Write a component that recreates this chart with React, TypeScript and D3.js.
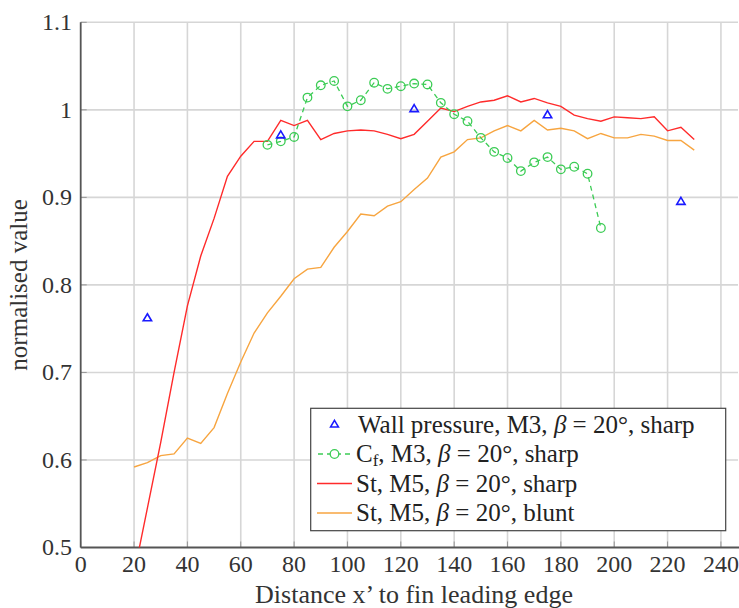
import React from 'react';
import * as d3 from 'd3';

// distance x' (5-unit stations)
const stations = [20, 25, 30, 35, 40, 45, 50, 55, 60, 65, 70, 75, 80, 85, 90, 95, 100, 105, 110, 115, 120, 125, 130,
  135, 140, 145, 150, 155, 160, 165, 170, 175, 180, 185, 190, 195, 200, 205, 210, 215, 220, 225, 230];

// St, M5, sharp
const stSharp = [0.47, 0.545, 0.62, 0.70, 0.776, 0.833, 0.876, 0.924, 0.947, 0.964, 0.964, 0.988, 0.982, 0.988, 0.966,
  0.973, 0.976, 0.977, 0.976, 0.972, 0.967, 0.972, 0.987, 1.002, 0.998, 1.004, 1.009, 1.011, 1.016, 1.009, 1.013,
  1.008, 1.004, 0.994, 0.990, 0.987, 0.992, 0.991, 0.990, 0.992, 0.976, 0.980, 0.966];

// St, M5, blunt
const stBlunt = [0.592, 0.597, 0.605, 0.607, 0.625, 0.619, 0.637, 0.676, 0.712, 0.745, 0.768, 0.787, 0.807, 0.818,
  0.820, 0.843, 0.861, 0.881, 0.879, 0.890, 0.895, 0.909, 0.922, 0.946, 0.952, 0.966, 0.968, 0.976, 0.982, 0.976,
  0.988, 0.977, 0.979, 0.976, 0.967, 0.973, 0.968, 0.968, 0.972, 0.970, 0.965, 0.965, 0.954];

// Cf, M3, sharp
const cfX = [70, 75, 80, 85, 90, 95, 100, 105, 110, 115, 120, 125, 130, 135, 140, 145, 150, 155, 160, 165, 170, 175,
  180, 185, 190, 195];
const cfY = [0.960, 0.964, 0.969, 1.014, 1.028, 1.033, 1.004, 1.011, 1.031, 1.024, 1.027, 1.030, 1.029, 1.008, 0.995,
  0.987, 0.968, 0.952, 0.945, 0.930, 0.940, 0.946, 0.932, 0.935, 0.927, 0.865];

// wall pressure, M3, sharp
const wpX = [25, 75, 125, 175, 225];
const wpY = [0.762, 0.971, 1.001, 0.994, 0.895];

const xTicks = [0, 20, 40, 60, 80, 100, 120, 140, 160, 180, 200, 220, 240];
const yTicks = [0.5, 0.6, 0.7, 0.8, 0.9, 1, 1.1];

const W = 739;
const H = 608;
const left = 80.7;
const right = 738;
const top = 22.3;
const bottom = 547.5;

const FONT = "'Liberation Serif', 'DejaVu Serif', serif";
const RED = '#ff2b2b';
const ORANGE = '#f7a540';
const GREEN = '#3ccc55';
const BLUE = '#1a1aff';
const GRID = '#d6d6d6';
const AXIS = '#555';

const App = () => {
  const x = d3.scaleLinear().domain([0, 246.4]).range([left, right]);
  const y = d3.scaleLinear().domain([0.5, 1.1]).range([bottom, top]);

  const line = d3.line<[number, number]>()
    .x(d => x(d[0]))
    .y(d => y(d[1]));

  const redPts = stations.map((s, i) => [s, stSharp[i]] as [number, number]);
  const orangePts = stations.map((s, i) => [s, stBlunt[i]] as [number, number]);
  const greenPts = cfX.map((s, i) => [s, cfY[i]] as [number, number]);

  const tri = (cx: number, cy: number, r: number) =>
    `M${cx},${cy - r}L${cx + r * 0.95},${cy + r * 0.6}L${cx - r * 0.95},${cy + r * 0.6}Z`;

  // legend
  const lgX = 310.7, lgY = 408.3, lgW = 415, lgH = 122.4;
  const rowY = [424.5, 454, 483.5, 513];
  const sx1 = 317, sx2 = 352, tx = 356;

  return (
    <svg width={W} height={H} style={{ position: 'absolute', left: 0, top: 0, background: '#fff', fontFamily: FONT }}>
      <defs>
        <clipPath id="plot">
          <rect x={left} y={top} width={right - left} height={bottom - top} />
        </clipPath>
      </defs>

      {/* grid */}
      {xTicks.filter(t => t > 0).map(t => (
        <line key={'gx' + t} x1={x(t)} x2={x(t)} y1={top} y2={bottom} stroke={GRID} strokeWidth={1.6} />
      ))}
      {yTicks.filter(t => t > 0.5).map(t => (
        <line key={'gy' + t} x1={left} x2={right} y1={y(t)} y2={y(t)} stroke={GRID} strokeWidth={1.6} />
      ))}

      {/* tick marks */}
      {xTicks.map(t => (
        <line key={'tx' + t} x1={x(t)} x2={x(t)} y1={bottom} y2={bottom - 6} stroke={AXIS} strokeWidth={1} opacity={0.5} />
      ))}
      {yTicks.map(t => (
        <line key={'ty' + t} x1={left} x2={left + 6} y1={y(t)} y2={y(t)} stroke={AXIS} strokeWidth={1} opacity={0.5} />
      ))}

      {/* axes */}
      <line x1={left} x2={left} y1={top} y2={bottom} stroke={AXIS} strokeWidth={1.8} />
      <line x1={left} x2={W} y1={bottom} y2={bottom} stroke={AXIS} strokeWidth={1.8} />

      {/* series */}
      <g clipPath="url(#plot)">
        <path d={line(orangePts) || ''} fill="none" stroke={ORANGE} strokeWidth={1.4} />
        <path d={line(redPts) || ''} fill="none" stroke={RED} strokeWidth={1.4} />
        <path d={line(greenPts) || ''} fill="none" stroke={GREEN} strokeWidth={1.3} strokeDasharray="5 4" />
        {greenPts.map((p, i) => (
          <circle key={'c' + i} cx={x(p[0])} cy={y(p[1])} r={4.3} fill="none" stroke={GREEN} strokeWidth={1.3} />
        ))}
        {wpX.map((v, i) => (
          <path key={'w' + i} d={tri(x(v), y(wpY[i]), 4.4)} fill="none" stroke={BLUE} strokeWidth={1.6} />
        ))}
      </g>

      {/* tick labels */}
      {xTicks.map(t => (
        <text key={'lx' + t} x={x(t)} y={572} textAnchor="middle" fontSize={24} fill="#333">{t}</text>
      ))}
      {yTicks.map(t => (
        <text key={'ly' + t} x={72} y={y(t)} dy="0.33em" textAnchor="end" fontSize={24} fill="#333">{d3.format('~g')(t)}</text>
      ))}

      {/* axis labels */}
      <text x={414} y={603} textAnchor="middle" fontSize={26} fill="#333">
        Distance x’ to fin leading edge
      </text>
      <text transform={`translate(27,${(top + bottom) / 2}) rotate(-90)`} textAnchor="middle" fontSize={25} fill="#333">
        normalised value
      </text>

      {/* legend */}
      <rect x={lgX} y={lgY} width={lgW} height={lgH} fill="#fff" stroke="#444" strokeWidth={1.2} />
      <path d={tri((sx1 + sx2) / 2, rowY[0], 4.2)} fill="none" stroke={BLUE} strokeWidth={1.5} />
      <line x1={sx1} x2={sx2} y1={rowY[1]} y2={rowY[1]} stroke={GREEN} strokeWidth={1.3} strokeDasharray="5 4" strokeDashoffset={-1} />
      <circle cx={(sx1 + sx2) / 2} cy={rowY[1]} r={4.3} fill="#fff" stroke={GREEN} strokeWidth={1.3} />
      <line x1={sx1} x2={sx2} y1={rowY[2]} y2={rowY[2]} stroke={RED} strokeWidth={1.4} />
      <line x1={sx1} x2={sx2} y1={rowY[3]} y2={rowY[3]} stroke={ORANGE} strokeWidth={1.4} />

      <g fontSize={25} fill="#222">
        <text x={tx + 2} y={rowY[0]} dy="0.33em">
          Wall pressure, M3, <tspan fontStyle="italic">β</tspan> = 20°, sharp
        </text>
        <text x={tx} y={rowY[1]} dy="0.33em">
          C<tspan fontSize={17} dy="4">f</tspan><tspan dy="-4">, M3, </tspan><tspan fontStyle="italic">β</tspan> = 20°, sharp
        </text>
        <text x={tx} y={rowY[2]} dy="0.33em">
          St, M5, <tspan fontStyle="italic">β</tspan> = 20°, sharp
        </text>
        <text x={tx} y={rowY[3]} dy="0.33em">
          St, M5, <tspan fontStyle="italic">β</tspan> = 20°, blunt
        </text>
      </g>
    </svg>
  );
};

export default App;
